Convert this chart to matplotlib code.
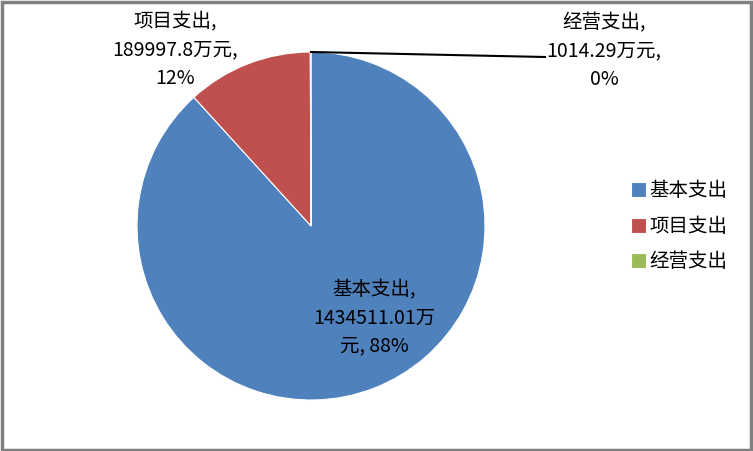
import matplotlib
matplotlib.use('Agg')
import matplotlib.pyplot as plt
from matplotlib.patches import Rectangle

plt.rcParams['font.family'] = ['Noto Sans CJK SC', 'DejaVu Sans']

names = ['基本支出', '项目支出', '经营支出']
values = [1434511.01, 189997.8, 1014.29]
value_text = ['1434511.01万', '189997.8万元,', '1014.29万元,']
pct_text = ['元, 88%', '12%', '0%']
colors = ['#4F81BD', '#C0504D', '#9BBB59']

fig = plt.figure(figsize=(7.53, 4.51), dpi=100)
fig.patch.set_facecolor('white')
fig.patches.append(Rectangle((0.002, 0.003), 0.996, 0.993, transform=fig.transFigure,
                             fill=False, edgecolor='#808080', linewidth=2.5))

ax = fig.add_axes([137 / 753, 51 / 451, 348 / 753, 348 / 451])
wedges, _ = ax.pie(values, colors=colors, startangle=90, counterclock=False,
                   radius=1, wedgeprops=dict(edgecolor='white', linewidth=0.8))
ax.set_xlim(-1, 1)
ax.set_ylim(-1, 1)
ax.set_aspect('equal')
ax.axis('off')

fs = 14
ls = 1.45
# data labels
fig.text(374 / 753, 1 - 318 / 451, names[0] + ',\n' + value_text[0] + '\n' + pct_text[0],
         ha='center', va='center', fontsize=fs, linespacing=ls)
fig.text(175 / 753, 1 - 50 / 451, names[1] + ',\n' + value_text[1] + '\n' + pct_text[1],
         ha='center', va='center', fontsize=fs, linespacing=ls)
fig.text(604 / 753, 1 - 51 / 451, names[2] + ',\n' + value_text[2] + '\n' + pct_text[2],
         ha='center', va='center', fontsize=fs, linespacing=ls)

# leader line for the tiny slice
fig.lines.append(plt.Line2D([311 / 753, 545 / 753], [1 - 52 / 451, 1 - 57 / 451],
                            transform=fig.transFigure, color='black', linewidth=1.5))

leg = fig.legend(wedges, names, loc='center left', bbox_to_anchor=(631 / 753, 1 - 226 / 451),
                 frameon=False, fontsize=fs, handlelength=0.6, handleheight=0.6,
                 handletextpad=0.35, labelspacing=0.75, borderpad=0, borderaxespad=0)
for h in leg.legend_handles:
    h.set_height(11)
    h.set_width(11)
    h.set_y(h.get_y() - 1.5)

fig.savefig('out.png', dpi=100, facecolor='white')
